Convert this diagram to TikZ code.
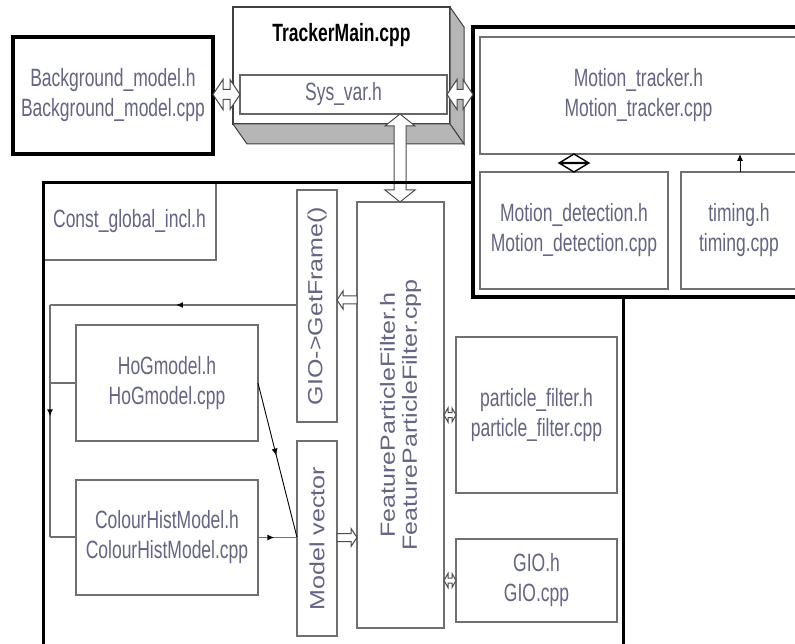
\documentclass[tikz,border=0pt]{standalone}
\usepackage{fontspec}
\newfontfamily\nf[FakeStretch=0.70]{Liberation Sans}
\newfontfamily\vf[FakeStretch=1.22]{Liberation Sans}
\usetikzlibrary{calc,arrows.meta,decorations.markings}
\definecolor{txt}{RGB}{100,100,132}
\definecolor{bord}{RGB}{112,112,112}
\definecolor{face}{RGB}{182,182,182}
% horizontal hollow double arrow: #1 end, #2 other end, #3 shaft half, #4 head half, #5 head length
\newcommand\hdbl[5]{\draw[hollow] let \p1=(#1), \p2=(#2), \n1={sign(\x2-\x1)} in
 (\x1,\y1) -- (\x1+\n1*#5,\y1+#4) -- (\x1+\n1*#5,\y1+#3) -- (\x2-\n1*#5,\y1+#3) -- (\x2-\n1*#5,\y1+#4) -- (\x2,\y1)
 -- (\x2-\n1*#5,\y1-#4) -- (\x2-\n1*#5,\y1-#3) -- (\x1+\n1*#5,\y1-#3) -- (\x1+\n1*#5,\y1-#4) -- cycle;}
% vertical hollow double arrow
\newcommand\vdbl[5]{\draw[hollow] let \p1=(#1), \p2=(#2), \n1={sign(\y2-\y1)} in
 (\x1,\y1) -- (\x1+#4,\y1+\n1*#5) -- (\x1+#3,\y1+\n1*#5) -- (\x1+#3,\y2-\n1*#5) -- (\x1+#4,\y2-\n1*#5) -- (\x1,\y2)
 -- (\x1-#4,\y2-\n1*#5) -- (\x1-#3,\y2-\n1*#5) -- (\x1-#3,\y1+\n1*#5) -- (\x1-#4,\y1+\n1*#5) -- cycle;}
% horizontal hollow single arrow: #1 tail, #2 tip
\newcommand\hsgl[5]{\draw[hollow] let \p1=(#1), \p2=(#2), \n1={sign(\x2-\x1)} in
 (\x1,\y1+#3) -- (\x2-\n1*#5,\y1+#3) -- (\x2-\n1*#5,\y1+#4) -- (\x2,\y1) -- (\x2-\n1*#5,\y1-#4) -- (\x2-\n1*#5,\y1-#3) -- (\x1,\y1-#3) -- cycle;}
\begin{document}
\begin{tikzpicture}[x=1pt,y=-1pt,
  box/.style={draw=bord,line width=1.8pt,fill=white,anchor=north west,inner sep=0pt,outer sep=0pt,
    text=txt,font=\nf\fontsize{25}{30}\selectfont,align=center},
  heavy/.style={box,draw=black,line width=3.5pt},
  vtext/.style={text=txt,font=\vf\fontsize{20.5}{22}\selectfont,align=center,rotate=90,inner sep=0pt},
  conn/.style={draw=bord,line width=1.8pt},
  thinconn/.style={draw=black,line width=0.9pt},
  hollow/.style={draw=black!70,line width=1pt,fill=white},
  midarrow/.style={postaction={decorate},decoration={markings,mark=at position #1 with {\arrow[black]{Latex[length=7pt,width=6pt]}}}},
  mainline/.style={draw=black,line width=3pt},
  facestyle/.style={fill=face,draw=black!75,line width=1pt},
]
\useasboundingbox (0,0) rectangle (795,644);
\clip (0,0) rectangle (795,644);

% main enclosing region
\node[box,minimum width=173,minimum height=77] (const) at (43,183) {Const\_global\_incl.h};
\coordinate (m1) at (43,670);
\coordinate (mr) at (623,0);

% motion tracker group
\node[heavy,minimum width=330,minimum height=270] (mt) at (473,27) {};
\node[box,minimum width=317,minimum height=117] (mtr) at (480,37) {Motion\_tracker.h\\Motion\_tracker.cpp};
\node[box,minimum width=188,minimum height=117] (md) at (480,172) {Motion\_detection.h\\Motion\_detection.cpp};
\node[box,minimum width=116,minimum height=117] (tim) at (681,172) {timing.h\\timing.cpp};

\draw[mainline] (m1) -- (m1 |- const.north) -- (mt.west |- const.north);
\draw[mainline] (mr |- mt.south) -- (mr |- m1);

% background model
\node[heavy,minimum width=200,minimum height=117] (bg) at (13,37) {Background\_model.h\\Background\_model.cpp};

% TrackerMain 3D box
\node[box,draw=black!75,line width=1.2pt,minimum width=217,minimum height=117] (tm) at (233,7) {};
\draw[facestyle] (tm.north east) -- ++(14,20) -- ($(tm.south east)+(14,20)$) -- (tm.south east) -- cycle;
\draw[facestyle] (tm.south west) -- ++(14,20) -- ($(tm.south east)+(14,20)$) -- (tm.south east) -- cycle;
\node[font=\nf\bfseries\fontsize{25}{30}\selectfont,text=black] (tmt) at ($(tm.north)+(0,28)$) {TrackerMain.cpp};
\node[box,draw=black!60,line width=1.4pt,minimum width=207,minimum height=39] (sys) at (240,75) {Sys\_var.h};

% inner boxes
\node[box,minimum width=40,minimum height=232] (gf) at (297,190) {};
\node[vtext] (gft) at (gf.center) {GIO->GetFrame()};
\node[box,minimum width=40,minimum height=195] (mv) at (297,441) {};
\node[vtext] (mvt) at (mv.center) {Model vector};
\node[box,minimum width=87,minimum height=426] (fpf) at (357,202) {};
\node[vtext] (fpft) at (fpf.center) {FeatureParticleFilter.h\\FeatureParticleFilter.cpp};
\node[box,minimum width=161,minimum height=156] (pf) at (456,337) {particle\_filter.h\\particle\_filter.cpp};
\node[box,minimum width=161,minimum height=83] (gio) at (456,539) {GIO.h\\GIO.cpp};
\node[box,minimum width=182,minimum height=116] (hog) at (76,325) {HoGmodel.h\\HoGmodel.cpp};
\node[box,minimum width=182,minimum height=115] (chm) at (76,480) {ColourHistModel.h\\ColourHistModel.cpp};

% feedback connectors
\coordinate (fb1) at (50,305);
\coordinate (fb2) at (50,537);
\coordinate (mvin) at (mv.west |- chm.east);
\draw[conn,midarrow=0.49] (gf.west |- fb1) -- (fb1);
\draw[conn,midarrow=0.48] (fb1) -- (fb2);
\draw[conn] (fb2) -- (chm.west |- fb2);
\draw[conn] (hog.west) -- (fb1 |- hog.west);
\draw[thinconn,midarrow=0.47] (hog.east) -- (mvin);
\draw[conn,midarrow=0.42] (chm.east) -- (mvin);

% hollow arrows
\coordinate (ga) at (0,300);
\hsgl{fpf.west |- ga}{gf.east |- ga}{4}{9}{6}
\hsgl{mv.east |- mvin}{fpf.west |- mvin}{4}{9}{6}
\hdbl{fpf.east |- pf.west}{pf.west}{2.5}{7}{4}
\hdbl{fpf.east |- gio.west}{gio.west}{2.5}{7}{4}
\hdbl{bg.east |- sys.west}{sys.west}{5}{15}{10}
\hdbl{sys.east}{mt.west |- sys.east}{5}{15}{10}
\coordinate (va) at (400,0);
\vdbl{va |- sys.south}{va |- fpf.north}{6}{15}{12}
\draw[mainline] (va |- const.north) ++(-8,0) -- ++(16,0);

% motion tracker internal links
\coordinate (ta) at (740,0);
\draw[thinconn,-{Latex[length=7pt,width=6pt]}] (ta |- tim.north) -- (ta |- mtr.south);
\draw[black,line width=1.4pt,fill=white] (md.north |- mtr.south) -- ++(14,8.5) -- ++(-28,0) -- cycle;
\draw[black,line width=1.4pt,fill=white] (md.north) -- ++(14,-8.5) -- ++(-28,0) -- cycle;
\end{tikzpicture}
\end{document}
